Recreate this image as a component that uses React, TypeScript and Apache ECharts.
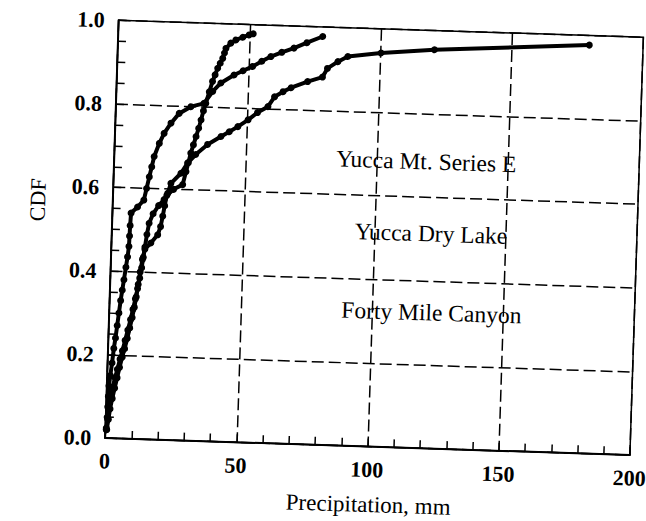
import React, { useEffect, useRef } from "react";
import * as echarts from "echarts";

// Axis ticks
const xTicks = [0, 50, 100, 150, 200];
const yTicks = [0, 0.2, 0.4, 0.6, 0.8, 1.0];

// Labels written inside the plot (top to bottom)
const seriesLabels = ["Yucca Mt. Series E", "Yucca Dry Lake", "Forty Mile Canyon"];
const xTitle = "Precipitation, mm";
const yTitle = "CDF";

// CDF curve that ends near 51 mm
const curveA: [number, number][] = [
  [0.5, 0.02], [1, 0.045], [1.5, 0.07], [2.2, 0.095], [3, 0.12], [3.8, 0.145], [4.6, 0.17],
  [5.5, 0.195], [6.3, 0.215], [7.2, 0.24], [8, 0.265], [8.8, 0.29], [9.5, 0.315], [10.1, 0.34],
  [10.7, 0.37], [11.3, 0.4], [12, 0.43], [12.8, 0.455], [15, 0.47], [17.5, 0.49], [18.5, 0.51],
  [19.2, 0.535], [19.8, 0.56], [20.5, 0.585], [23, 0.6], [26.4, 0.612], [27.5, 0.643],
  [28.3, 0.665], [29.1, 0.688], [30, 0.708], [30.9, 0.728], [31.8, 0.748], [32.6, 0.768],
  [33.4, 0.79], [34.2, 0.808], [35.4, 0.836], [36.5, 0.861], [37.4, 0.877], [38.3, 0.893],
  [39.2, 0.905], [40.1, 0.917], [40.7, 0.93], [41.2, 0.941], [43, 0.954], [44.9, 0.962],
  [47.5, 0.969], [49.9, 0.975], [51.4, 0.978],
];

// CDF curve that ends near 78 mm
const curveB: [number, number][] = [
  [0.3, 0.024], [0.5, 0.05], [0.6, 0.075], [0.7, 0.1], [0.8, 0.125], [1.2, 0.15], [1.7, 0.18],
  [2.2, 0.215], [2.7, 0.24], [3.2, 0.27], [3.7, 0.3], [4.2, 0.33], [4.7, 0.355], [5.2, 0.38],
  [5.8, 0.41], [6.3, 0.435], [6.7, 0.46], [6.8, 0.485], [6.9, 0.51], [7.1, 0.54], [9.5, 0.555],
  [11.8, 0.572], [12.7, 0.6], [13.6, 0.628], [14.4, 0.652], [15.2, 0.677], [17, 0.709],
  [18.7, 0.733], [21.2, 0.758], [24.2, 0.782], [28.6, 0.799], [33.5, 0.808], [36.7, 0.837],
  [39.7, 0.858], [44.6, 0.878], [48, 0.889], [51.6, 0.9], [55, 0.913], [58.4, 0.925],
  [62.5, 0.936], [67.1, 0.947], [72, 0.961], [77.9, 0.977],
];

// CDF curve that ends near 180 mm
const curveC: [number, number][] = [
  [0.3, 0.02], [0.7, 0.045], [1.1, 0.07], [1.6, 0.095], [2.2, 0.12], [3, 0.145], [3.8, 0.165],
  [4.7, 0.19], [5.5, 0.21], [6.4, 0.235], [7.3, 0.26], [8.2, 0.285], [9, 0.31], [9.8, 0.335],
  [10.5, 0.36], [11.2, 0.385], [11.8, 0.41], [12.3, 0.435], [12.8, 0.46], [13.4, 0.49],
  [14.1, 0.517], [15.5, 0.54], [17.5, 0.56], [19.5, 0.575], [20.8, 0.59], [21.9, 0.614],
  [25.6, 0.639], [28, 0.664], [31, 0.685], [35.4, 0.71], [40.4, 0.73], [43.5, 0.742],
  [46.7, 0.755], [50.5, 0.772], [54, 0.79], [57.9, 0.805], [60.3, 0.829], [63.5, 0.842],
  [66.5, 0.852], [72.7, 0.868], [78.3, 0.88], [80.1, 0.901], [84, 0.918], [87.7, 0.931],
  [100.3, 0.942], [120.6, 0.954], [179.5, 0.977],
];

const curves = [curveA, curveB, curveC];

const SERIF = '"Liberation Serif", "Times New Roman", serif';

export default function App() {
  const ref = useRef<HTMLDivElement | null>(null);

  useEffect(() => {
    if (!ref.current) return;
    const chart = echarts.init(ref.current, null, { renderer: "svg" });

    const axisCommon = {
      type: "value" as const,
      axisLine: { show: true, lineStyle: { color: "#000", width: 2 } },
      axisTick: { show: true, inside: true, length: 8, lineStyle: { color: "#000", width: 1.5 } },
      splitLine: { show: true, lineStyle: { color: "#000", width: 1.5, type: [12, 5] } },
    };

    const textStyle = (size: number) => ({
      fill: "#000",
      font: `${size}px ${SERIF}`,
      align: "center",
      verticalAlign: "middle",
      textAlign: "center",
      textVerticalAlign: "middle",
    });

    const option: any = {
      animation: false,
      backgroundColor: "#fff",
      grid: {
        left: 111,
        top: 27,
        width: 525,
        height: 418,
        show: true,
        borderColor: "#000",
        borderWidth: 1.5,
        backgroundColor: "transparent",
        containLabel: false,
        outerBoundsMode: "none",
      },
      xAxis: {
        ...axisCommon,
        min: xTicks[0],
        max: xTicks[xTicks.length - 1],
        interval: xTicks[1] - xTicks[0],
        minorTick: { show: true, splitNumber: 5, length: 8, lineStyle: { color: "#000", width: 1.5 } },
        axisLabel: {
          color: "#000",
          fontFamily: SERIF,
          fontWeight: "bold",
          fontSize: 22,
          margin: 12,
          formatter: (v: number) => String(v),
        },
      },
      yAxis: {
        ...axisCommon,
        min: yTicks[0],
        max: yTicks[yTicks.length - 1],
        interval: 0.2,
        minorTick: { show: true, splitNumber: 4, length: 8, lineStyle: { color: "#000", width: 1.5 } },
        axisLabel: {
          color: "#000",
          fontFamily: SERIF,
          fontWeight: "bold",
          fontSize: 22,
          margin: 14,
          formatter: (v: number) => v.toFixed(1),
        },
      },
      series: curves.map((c, i) => ({
        type: "line",
        name: seriesLabels[i],
        data: c,
        symbol: "circle",
        symbolSize: 7,
        showSymbol: true,
        itemStyle: { color: "#000" },
        lineStyle: { color: "#000", width: 4 },
        z: 3,
      })),
      graphic: [
        { type: "text", x: 423, y: 158, style: { text: seriesLabels[0], ...textStyle(23.5) } },
        { type: "text", x: 430, y: 230, style: { text: seriesLabels[1], ...textStyle(23.5) } },
        { type: "text", x: 433, y: 309, style: { text: seriesLabels[2], ...textStyle(23.5) } },
        { type: "text", x: 376, y: 503, style: { text: xTitle, ...textStyle(23) } },
        { type: "text", x: 36, y: 209, rotation: Math.PI / 2, style: { text: yTitle, ...textStyle(22) } },
      ],
    };

    chart.setOption(option);
    return () => chart.dispose();
  }, []);

  return (
    <div
      style={{
        position: "absolute",
        left: 0,
        top: 0,
        width: 646,
        height: 521,
        overflow: "hidden",
        background: "#fff",
      }}
    >
      <div
        ref={ref}
        style={{
          position: "absolute",
          left: 0,
          top: 0,
          width: 680,
          height: 521,
          transform: "rotate(1.85deg)",
          transformOrigin: "323px 260.5px",
        }}
      />
    </div>
  );
}
